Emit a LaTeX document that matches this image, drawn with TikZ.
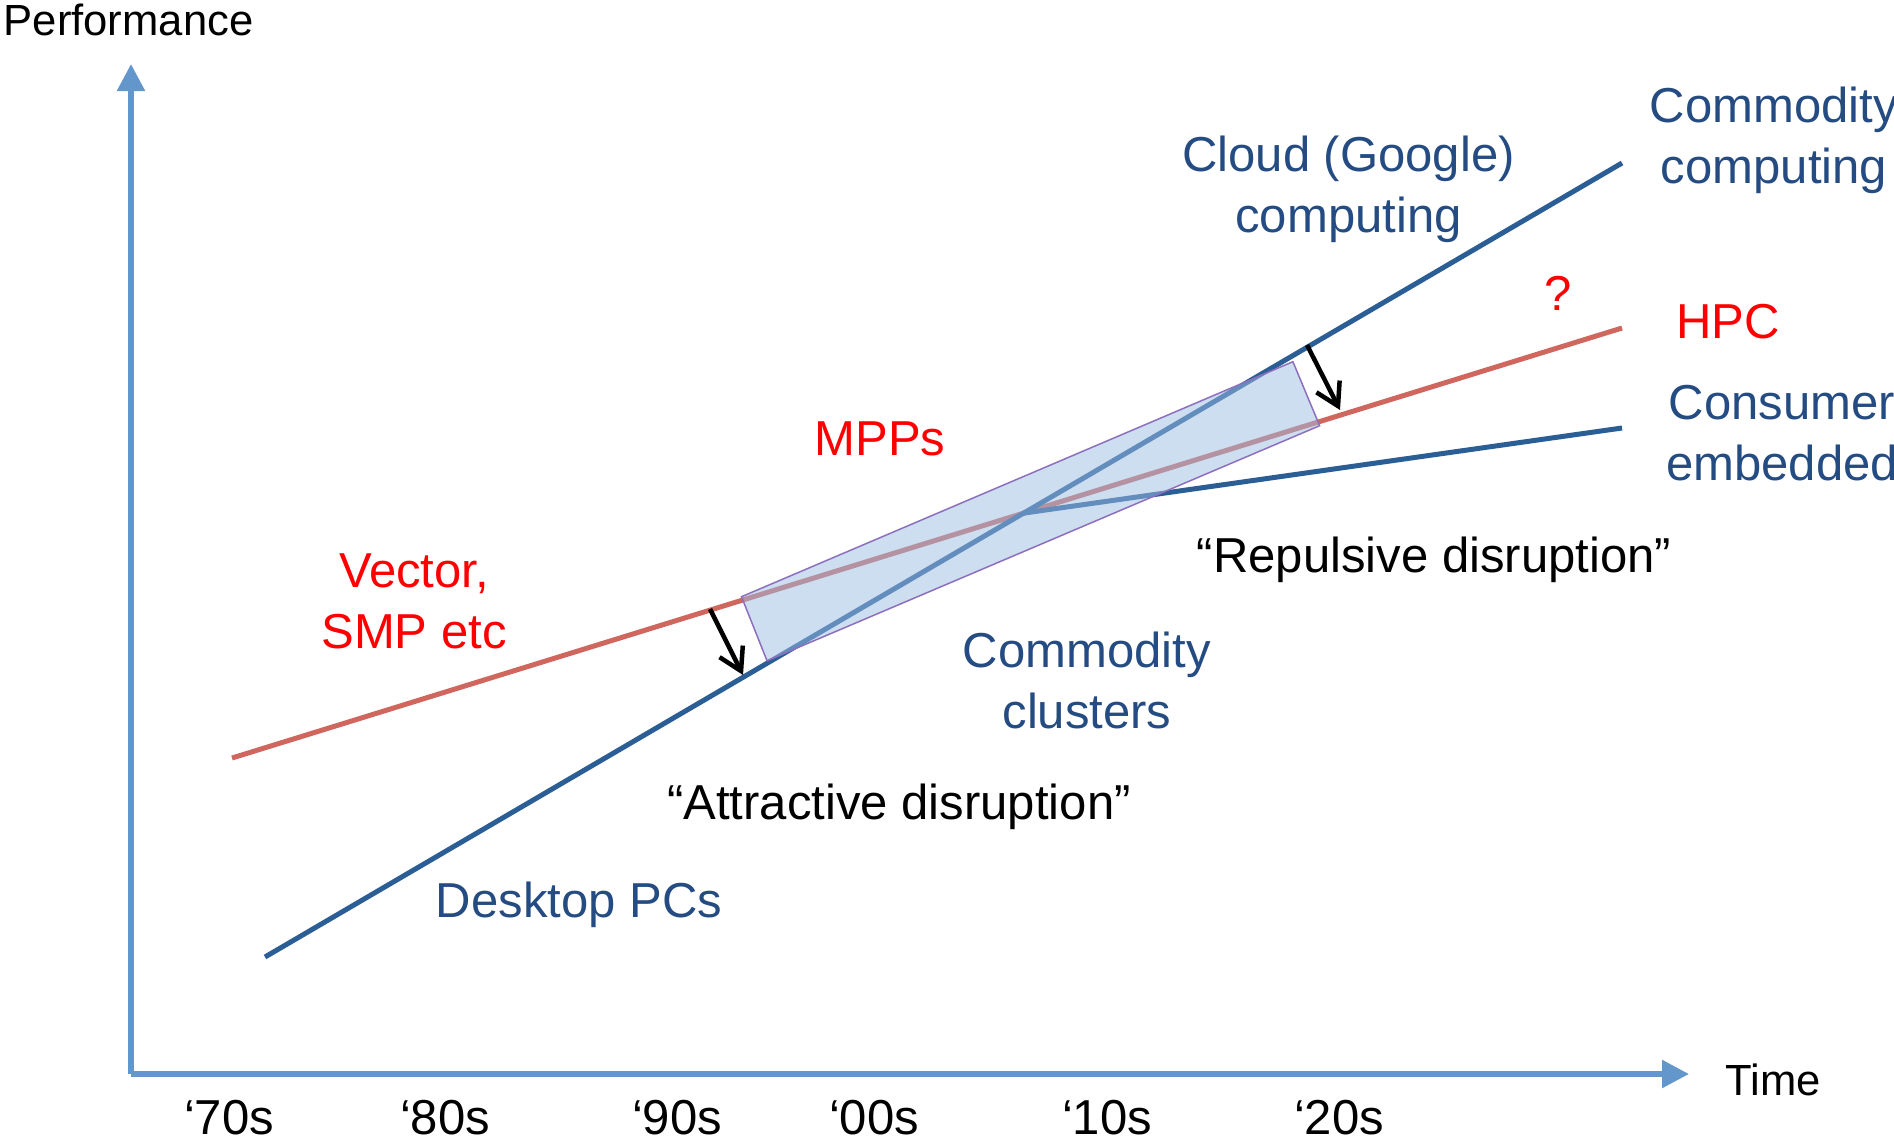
\documentclass[tikz,border=0pt]{standalone}
\usepackage{fontspec}
\setmainfont{Liberation Sans}
\usetikzlibrary{arrows.meta}
\usepackage{xcolor}

\definecolor{axisblue}{HTML}{6397CB}
\definecolor{lineblue}{HTML}{2C5E96}
\definecolor{textblue}{HTML}{244C82}
\definecolor{linered}{HTML}{D0675F}
\definecolor{boxfill}{HTML}{9BBDE3}
\definecolor{boxedge}{HTML}{8D6FBE}

\tikzset{
  axis/.style={axisblue, line width=0.055cm, -{Triangle[length=0.27cm, width=0.27cm]}},
  trend/.style={line width=0.05cm},
  disrupt/.style={black, line width=0.045cm, -{Straight Barb[length=0.22cm, width=0.26cm]}},
  lbl/.style={inner sep=0pt, align=center, anchor=base, font=\fontsize{13.95}{17.07}\selectfont},
  axlbl/.style={inner sep=0pt, anchor=base west, font=\fontsize{12.4}{14}\selectfont},
}

\begin{document}
\begin{tikzpicture}[x=0.01cm, y=-0.01cm]
\useasboundingbox (0,0) rectangle (1894,1139);

% Axes
\coordinate (origin) at (131,1074);
\coordinate (ytop) at (131,64);
\coordinate (xend) at (1689,1074);
\draw[axis] (origin) -- (ytop);
\draw[axis] (origin) -- (xend);
\node[axlbl] (perf) at (3,35) {Performance};
\node[axlbl] (time) at (1725,1095) {Time};

% Decades
\node[lbl] (d70) at (229,1134) {‘70s};
\node[lbl] (d80) at (445,1134) {‘80s};
\node[lbl] (d90) at (677,1134) {‘90s};
\node[lbl] (d00) at (874,1134) {‘00s};
\node[lbl] (d10) at (1107,1134) {‘10s};
\node[lbl] (d20) at (1339,1134) {‘20s};

% Trend lines
\coordinate (hpc0) at (232,758);
\coordinate (hpc1) at (1622,328);
\coordinate (pc0) at (265,957);
\coordinate (pc1) at (1622,163);
\coordinate (cons1) at (1622,428);
\coordinate (split) at (intersection of hpc0--hpc1 and pc0--pc1);
\draw[trend, linered] (hpc0) -- (hpc1);
\draw[trend, lineblue] (pc0) -- (pc1);
\draw[trend, lineblue] (split) -- (cons1);

% Clusters band
\filldraw[fill=boxfill, fill opacity=0.5, draw=boxedge, line width=0.015cm]
  (741.5,596.7) -- (767,660.7) -- (1319.6,425.7) -- (1292.9,361.7) -- cycle;

% Disruptions
\coordinate (a0) at (710,609);
\coordinate (a1) at (743,675);
\coordinate (r0) at (1307,345);
\coordinate (r1) at (1340,410);
\draw[disrupt] (a0) -- (a1);
\draw[disrupt] (r0) -- (r1);

% Labels (multi-line ones sit on their last baseline)
\node[lbl, red] (vector) at (414,648) {Vector,\\SMP etc};
\node[lbl, red] (mpp) at (880,455) {MPPs};
\node[lbl, red] (hpc) at (1728,338) {HPC};
\node[lbl, red] (query) at (1558,310) {?};
\node[lbl, textblue] (cloud) at (1348.5,232) {Cloud (Google)\\computing};
\node[lbl, textblue] (commod) at (1774,183) {Commodity\\computing};
\node[lbl, textblue] (consumer) at (1782,480) {Consumer\\embedded};
\node[lbl, textblue] (clusters) at (1087,728) {Commodity\\clusters};
\node[lbl, textblue] (desktop) at (579,917) {Desktop PCs};
\node[lbl] (attract) at (899,819) {“Attractive disruption”};
\node[lbl] (repulse) at (1434,572) {“Repulsive disruption”};
\end{tikzpicture}
\end{document}
